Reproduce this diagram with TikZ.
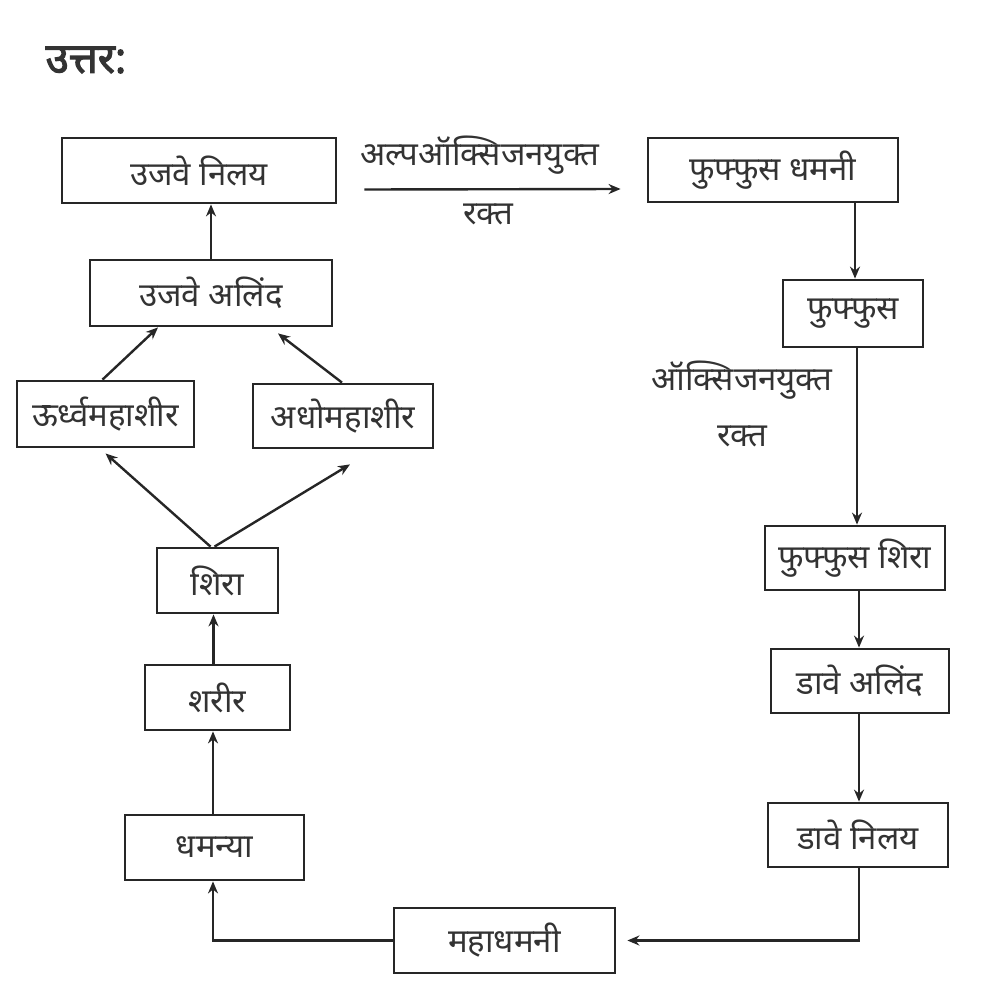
\documentclass[tikz,border=0pt]{standalone}
\usepackage{fontspec}
\setmainfont[Script=Devanagari]{Noto Sans}
\newfontfamily\headfont[Script=Devanagari,FakeBold=2.5]{Noto Sans}
\usetikzlibrary{arrows.meta}
\begin{document}
\begin{tikzpicture}[x=1pt,y=-1pt,
  box/.style={draw=black!85, line width=2.8pt, rectangle, inner sep=0pt, text=black!80,
    font=\fontsize{33}{37}\selectfont},
  lbl/.style={text=black!80, font=\fontsize{33}{37}\selectfont, inner sep=0pt},
  arr/.style={draw=black!85, line width=2.4pt, -{Stealth[length=12pt,width=10pt]}}]
\useasboundingbox (0,0) rectangle (988,985);
\node[lbl, font=\fontsize{42}{46}\headfont] (head) at (86,60) {उत्तर:};
% left column
\node[box, minimum width=274pt, minimum height=65pt] (rn) at (199,170.5) {उजवे निलय};
\node[box, minimum width=242pt, minimum height=66pt] (ra) at (211,293) {उजवे अलिंद};
\node[box, minimum width=177pt, minimum height=66pt] (svc) at (105.5,414) {ऊर्ध्वमहाशीर};
\node[box, minimum width=180pt, minimum height=64pt] (ivc) at (343,416) {अधोमहाशीर};
\node[box, minimum width=121pt, minimum height=65pt] (shira) at (217.5,580.5) {शिरा};
\node[box, minimum width=145pt, minimum height=65pt] (sharir) at (217.5,697.5) {शरीर};
\node[box, minimum width=179pt, minimum height=65pt] (dham) at (214.5,847.5) {धमन्या};
\node[box, minimum width=221pt, minimum height=65pt] (aorta) at (504.5,940.5) {महाधमनी};
% right column
\node[box, minimum width=250pt, minimum height=64pt] (pa) at (773,170) {फुफ्फुस धमनी};
\node[box, minimum width=140pt, minimum height=67pt] (lungs) at (853,313.5) {फुफ्फुस};
\node[box, minimum width=180pt, minimum height=64pt] (pv) at (855,558) {फुफ्फुस शिरा};
\node[box, minimum width=178pt, minimum height=64pt] (la) at (860,681) {डावे अलिंद};
\node[box, minimum width=180pt, minimum height=64pt] (lv) at (858,835) {डावे निलय};
% labels
\node[lbl] (t1) at (480,155) {अल्पऑक्सिजनयुक्त};
\node[lbl] (t2) at (488,214) {रक्त};
\node[lbl] (t3) at (742,380) {ऑक्सिजनयुक्त};
\node[lbl] (t4) at (742,436) {रक्त};
% connectors
\coordinate (a1) at ([xshift=27pt,yshift=-19pt]rn.east);
\coordinate (a2) at ([xshift=-26pt,yshift=-19pt]pa.west);
\draw[arr] (a1) -- (a2);
\draw[arr] (ra.north) -- (ra.north |- rn.south);
\draw[arr] ([xshift=-3pt]svc.north) -- ([xshift=-53pt]ra.south);
\draw[arr] ([xshift=-1pt]ivc.north) -- ([xshift=67pt,yshift=-6pt]ra.south);
\draw[arr] ([xshift=-7pt]shira.north) -- ([yshift=-5pt]svc.south);
\draw[arr] ([xshift=-3pt]shira.north) -- ([xshift=7pt,yshift=-15pt]ivc.south);
\draw[arr] ([xshift=-4pt]sharir.north) -- ([xshift=-4pt]sharir.north |- shira.south);
\draw[arr] ([xshift=-1.5pt]dham.north) -- ([xshift=-1.5pt]dham.north |- sharir.south);
\draw[arr] (aorta.west) -| ([xshift=-1.5pt]dham.south);
\draw[arr, shorten >=11pt] ([xshift=1pt]lv.south) |- (aorta.east);
\draw[arr] ([xshift=2pt]lungs.north |- pa.south) -- ([xshift=2pt]lungs.north);
\draw[arr] ([xshift=4pt]lungs.south) -- ([xshift=4pt]lungs.south |- pv.north);
\draw[arr] ([xshift=4pt]pv.south) -- ([xshift=4pt]pv.south |- la.north);
\draw[arr] ([xshift=-1pt]la.south) -- ([xshift=-1pt]la.south |- lv.north);
\end{tikzpicture}
\end{document}
